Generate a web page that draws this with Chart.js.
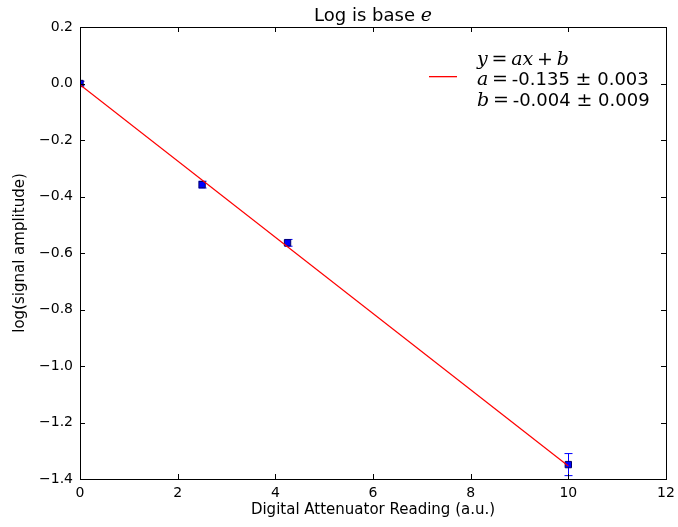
<!DOCTYPE html>
<html>
<head>
<meta charset="utf-8">
<script src="https://cdn.jsdelivr.net/npm/chart.js@4.4.1/dist/chart.umd.min.js"></script>
<style>
  html, body { margin: 0; padding: 0; background: #fff; }
  #wrap { width: 678px; height: 527px; position: relative; }
</style>
</head>
<body>
<div id="wrap"><canvas id="c" width="678" height="527"></canvas></div>
<script>
// data
const readings = [0, 2.5, 4.25, 10];
const logAmp = [0.0, -0.358, -0.564, -1.349];
const logErr = [0.008, 0.012, 0.012, 0.039];
const fitX = [0, 10];
const fitY = [-0.004, -1.354];
const xTicks = [0, 2, 4, 6, 8, 10, 12];
const yTicks = [0.2, 0.0, -0.2, -0.4, -0.6, -0.8, -1.0, -1.2, -1.4];

const FONT = '"DejaVu Sans", sans-serif';
const AXIS = '#000';

function fmtY(v) {
    const s = Math.abs(v).toFixed(1);
    return (v < -1e-9 ? '\u2212' : '') + s;
}

// error bars with caps, drawn through the scales
const errorBars = {
    id: 'errorBars',
    beforeDatasetsDraw(chart) {
        const { ctx, scales: { x, y }, chartArea } = chart;
        ctx.save();
        ctx.beginPath();
        ctx.rect(chartArea.left, chartArea.top, chartArea.right - chartArea.left, chartArea.bottom - chartArea.top);
        ctx.clip();
        ctx.strokeStyle = '#0000ff';
        ctx.lineWidth = 1;
        readings.forEach((r, i) => {
            const px = Math.round(x.getPixelForValue(r)) + 0.5;
            const y1 = y.getPixelForValue(logAmp[i] + logErr[i]);
            const y2 = y.getPixelForValue(logAmp[i] - logErr[i]);
            ctx.beginPath();
            ctx.moveTo(px, y1); ctx.lineTo(px, y2);
            ctx.moveTo(px - 4, y1); ctx.lineTo(px + 4, y1);
            ctx.moveTo(px - 4, y2); ctx.lineTo(px + 4, y2);
            ctx.stroke();
        });
        ctx.restore();
    }
};

// matplotlib classic frame: box, inward ticks on all sides, title, legend
const frame = {
    id: 'frame',
    afterDraw(chart) {
        const { ctx, scales: { x, y }, chartArea: a } = chart;
        ctx.save();
        ctx.strokeStyle = AXIS;
        ctx.lineWidth = 1;
        ctx.strokeRect(Math.round(a.left) + 0.5, Math.round(a.top) + 0.5,
            Math.round(a.right - a.left), Math.round(a.bottom - a.top));
        ctx.beginPath();
        xTicks.forEach(t => {
            const px = Math.round(x.getPixelForValue(t)) + 0.5;
            ctx.moveTo(px, a.bottom); ctx.lineTo(px, a.bottom - 5);
            ctx.moveTo(px, a.top); ctx.lineTo(px, a.top + 5);
        });
        yTicks.forEach(t => {
            const py = Math.round(y.getPixelForValue(t)) + 0.5;
            ctx.moveTo(a.left, py); ctx.lineTo(a.left + 5, py);
            ctx.moveTo(a.right, py); ctx.lineTo(a.right - 5, py);
        });
        ctx.stroke();

        // title
        ctx.fillStyle = '#000';
        ctx.textBaseline = 'alphabetic';
        ctx.textAlign = 'left';
        const t1 = 'Log is base ';
        const mathT = 'italic 19px "DejaVu Serif", serif';
        ctx.font = mathT;
        const wE = ctx.measureText('e').width;
        ctx.font = '18px ' + FONT;
        const w1 = ctx.measureText(t1).width;
        const cx = (a.left + a.right) / 2;
        const sx = cx - (w1 + wE) / 2;
        ctx.fillText(t1, sx, 21);
        ctx.font = mathT;
        ctx.fillText('e', sx + w1, 21);

        // legend
        ctx.fillStyle = '#ff0000';
        ctx.fillRect(429, 76, 28, 1.3);
        ctx.fillStyle = '#000';
        const mathF = 'italic 19px "DejaVu Serif", serif';
        const uprF = '19px "DejaVu Serif", serif';
        const txtF = '18px ' + FONT;
        const lines = [
            [[mathF, 'y'], [uprF, '\u2009=\u2009'], [mathF, 'ax'], [uprF, '\u2009+\u2009'], [mathF, 'b']],
            [[mathF, 'a'], [uprF, '\u2009=\u2009'], [txtF, '-0.135 '], [uprF, '\u00b1'], [txtF, ' 0.003']],
            [[mathF, 'b'], [uprF, '\u2009=\u2009'], [txtF, '-0.004 '], [uprF, '\u00b1'], [txtF, ' 0.009']]
        ];
        const base = [65, 85, 106];
        lines.forEach((parts, i) => {
            let lx = 477;
            parts.forEach(([f, s]) => {
                ctx.font = f;
                ctx.fillText(s, lx, base[i]);
                lx += ctx.measureText(s).width;
            });
        });
        ctx.restore();
    }
};

new Chart(document.getElementById('c'), {
    type: 'scatter',
    data: {
        datasets: [
            {
                label: 'fit',
                type: 'line',
                data: fitX.map((v, i) => ({ x: v, y: fitY[i] })),
                borderColor: '#ff0000',
                borderWidth: 1.2,
                pointRadius: 0,
                fill: false,
                clip: 0
            },
            {
                label: 'data',
                data: readings.map((v, i) => ({ x: v, y: logAmp[i] })),
                pointStyle: 'rect',
                pointRadius: 4.5,
                backgroundColor: '#0000ff',
                borderColor: '#00006a',
                borderWidth: 1,
                clip: 0
            }
        ]
    },
    options: {
        responsive: false,
        animation: false,
        devicePixelRatio: 1,
        layout: { padding: { top: 27, right: 12, left: 0, bottom: 0 } },
        plugins: { legend: { display: false }, tooltip: { enabled: false } },
        scales: {
            x: {
                type: 'linear',
                min: 0, max: 12,
                afterFit(s) { s.height = 48; s.paddingLeft = 0; s.paddingRight = 0; },
                afterBuildTicks(s) { s.ticks = xTicks.map(v => ({ value: v })); },
                grid: { display: false, drawTicks: false },
                border: { display: false },
                ticks: {
                    color: '#000', padding: 6, autoSkip: false, maxRotation: 0,
                    font: { family: FONT, size: 14 },
                    callback: v => String(v)
                },
                title: {
                    display: true, text: 'Digital Attenuator Reading (a.u.)',
                    color: '#000', font: { family: FONT, size: 15 }, padding: { top: 0, bottom: 8 }
                }
            },
            y: {
                type: 'linear',
                min: -1.4, max: 0.2,
                afterFit(s) { s.width = 80; s.paddingTop = 0; s.paddingBottom = 0; },
                afterBuildTicks(s) { s.ticks = yTicks.map(v => ({ value: v })); },
                grid: { display: false, drawTicks: false },
                border: { display: false },
                ticks: {
                    color: '#000', padding: 7, autoSkip: false,
                    font: { family: FONT, size: 14 },
                    callback: v => fmtY(v)
                },
                title: {
                    display: true, text: 'log(signal amplitude)',
                    color: '#000', font: { family: FONT, size: 15 }, padding: { top: 11, bottom: 0 }
                }
            }
        }
    },
    plugins: [errorBars, frame]
});
</script>
</body>
</html>
